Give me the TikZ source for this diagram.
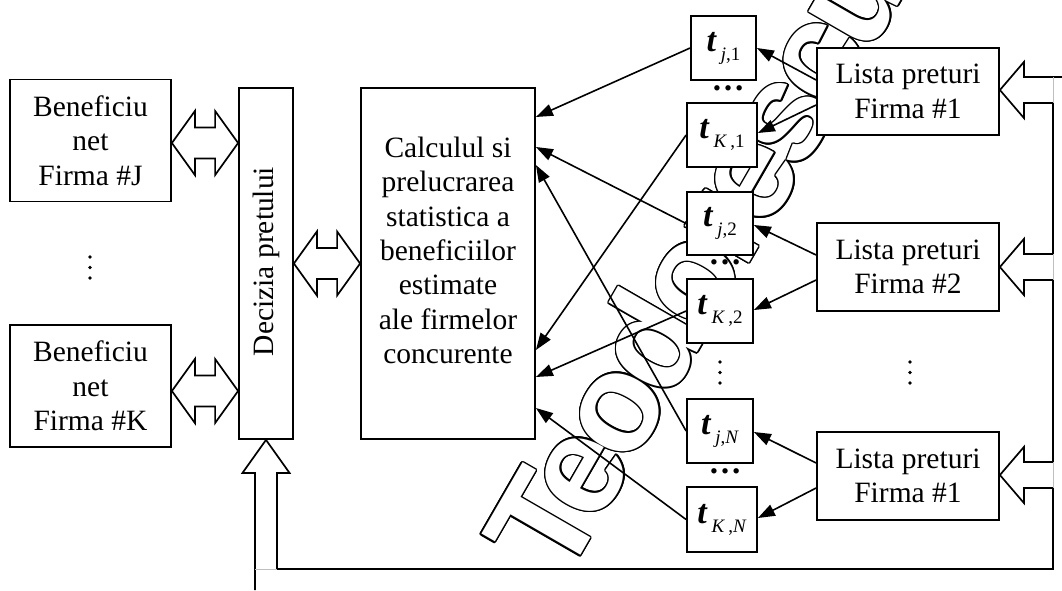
\documentclass[tikz,border=0pt]{standalone}
\usepackage{fontspec}
\setmainfont{Liberation Serif}
\newfontfamily\wmfont[LetterSpace=-7]{Liberation Sans}
\usetikzlibrary{arrows.meta,calc}
\newcommand{\tlab}[1]{{\fontsize{34}{34}\selectfont\textbf{\textit{t}}}\hspace{4pt}\raisebox{-9pt}{\fontsize{19}{19}\selectfont #1}}
% horizontal double block arrow between two tip coordinates
\newcommand{\hdbl}[2]{%
  \draw[block] (#1) -- ($(#1)+(23,-32)$) -- ($(#1)+(23,-15.5)$) -- ($(#2)+(-23,-15.5)$) -- ($(#2)+(-23,-32)$) -- (#2)
    -- ($(#2)+(-23,32)$) -- ($(#2)+(-23,15.5)$) -- ($(#1)+(23,15.5)$) -- ($(#1)+(23,32)$) -- cycle;}
% block arrow pointing left into a list box, fed from the bus
\newcommand{\inarr}[2]{%
  \draw[block] ($(#2 |- #1)+(0,-13)$) -- ($(#1)+(24,-13)$) -- ($(#1)+(24,-28)$) -- (#1)
    -- ($(#1)+(24,28)$) -- ($(#1)+(24,13)$) -- ($(#2 |- #1)+(0,13)$);}
\begin{document}
\begin{tikzpicture}[x=1pt,y=-1pt,
  box/.style={draw,line width=1.8pt,fill=white,inner sep=0pt,align=center,
              font=\fontsize{29.5}{34.3}\selectfont},
  txt/.style={inner sep=0pt,align=center,font=\fontsize{29.5}{34.3}\selectfont},
  conn/.style={line width=1.6pt,-{Triangle[length=17pt,width=12pt]}},
  block/.style={draw,line width=1.7pt,fill=white,line join=miter},
  ln/.style={line width=1.7pt},
  wm/.style={anchor=base west,rotate=60,inner sep=0pt,
             font=\wmfont\bfseries\fontsize{140}{140}\selectfont},
  hdots/.style={inner sep=0pt,font=\fontsize{33}{33}\selectfont\bfseries},
  vdot/.style={fill=black,draw=none}]
\useasboundingbox (0,0) rectangle (1062,590);

% ---- watermark (outlined text) ----
\coordinate (wmo) at (564,584);
\foreach \ang in {0,22.5,...,337.5}
  \node[wm,text=black] at ($(wmo)+(\ang:1.4)$) {Teodorescu};
\node[wm,text=white] at (wmo) {Teodorescu};

% ---- boxes ----
\node[box,minimum width=161pt,minimum height=122pt] (bJ) at (90.5,140.5) {Beneficiu\\net\\Firma \#J};
\node[box,minimum width=161pt,minimum height=122pt] (bK) at (90.5,386) {Beneficiu\\net\\Firma \#K};
\node[box,minimum width=54pt,minimum height=351pt] (dec) at (266,263.5) {};
\node[txt,rotate=90] (dect) at ([yshift=2pt]dec.center) {Decizia pretului};
\node[box,minimum width=174pt,minimum height=351pt] (calc) at (448,263.5) {};
\node[txt] (calct) at ([yshift=13pt]calc.center) {Calculul si\\prelucrarea\\statistica a\\beneficiilor\\estimate\\ale firmelor\\concurente};

\node[box,minimum width=182pt,minimum height=87pt] (L1) at (908,91.5) {Lista preturi\\Firma \#1};
\node[box,minimum width=182pt,minimum height=88pt] (L2) at (908,267) {Lista preturi\\Firma \#2};
\node[box,minimum width=182pt,minimum height=88pt] (L3) at (908,476) {Lista preturi\\Firma \#1};

\node[box,minimum width=65pt,minimum height=64pt] (tj1) at (723.5,48) {\tlab{\textit{j},1}};
\node[box,minimum width=70pt,minimum height=64pt] (tK1) at (722,135) {\tlab{\textit{K}\,,1}};
\node[box,minimum width=66pt,minimum height=63pt] (tj2) at (720,223.5) {\tlab{\textit{j},2}};
\node[box,minimum width=66pt,minimum height=64pt] (tK2) at (720,311) {\tlab{\textit{K}\,,2}};
\node[box,minimum width=66pt,minimum height=64pt] (tjN) at (720,431) {\tlab{\textit{j},\textit{N}}};
\node[box,minimum width=70pt,minimum height=65pt] (tKN) at (722,519.5) {\tlab{\textit{K}\,,\textit{N}}};

% ---- ellipses ----
\node[hdots] (d1) at (728,88) {…};
\node[hdots] (d2) at (725,262) {…};
\node[hdots] (d3) at (725,471) {…};
\foreach \x/\y in {90/257, 720/362, 910/362}
  \foreach \k in {0,1,2}
    \fill[vdot] (\x,\y+10.5*\k) circle (1.8pt);

% ---- block arrows ----
\coordinate (dJ1) at ([yshift=-2.5pt]bJ.east);
\coordinate (dJ2) at (dec.west |- dJ1);
\hdbl{dJ1}{dJ2}
\coordinate (dK1) at ([yshift=-5pt]bK.east);
\coordinate (dK2) at (dec.west |- dK1);
\hdbl{dK1}{dK2}
\coordinate (dC1) at (dec.east);
\coordinate (dC2) at (calc.west |- dC1);
\hdbl{dC1}{dC2}

\coordinate (bus) at (1053,569);
\coordinate (i1) at ([yshift=1.5pt]L1.east);
\coordinate (i2) at (L2.east);
\coordinate (i3) at ([yshift=1pt]L3.east);
\inarr{i1}{bus}
\inarr{i2}{bus}
\inarr{i3}{bus}
\draw[ln] ($(i1)+(24,-13)$) -- ($(bus |- i1)+(9,-13)$);

% bus and feedback to the decision block
\coordinate (fbR) at (277,569);
\coordinate (fbL) at (255,590);
\draw[ln] ($(bus |- i1)+(0,13)$) -- ($(bus |- i2)+(0,-13)$)
          ($(bus |- i2)+(0,13)$) -- ($(bus |- i3)+(0,-13)$)
          ($(bus |- i3)+(0,13)$) -- (bus) -- (fbR)
          -- ($(dec.south)+(11,33)$) -- ($(dec.south)+(23.5,33)$) -- (dec.south)
          -- ($(dec.south)+(-23.5,33)$) -- ($(dec.south)+(-11,33)$) -- (fbL);
\draw[gray!50,line width=0.6pt] ($(bus |- i1)+(0,-13)$) -- ($(bus |- i1)+(0,13)$)
      ($(bus |- i2)+(0,-13)$) -- ($(bus |- i2)+(0,13)$)
      ($(bus |- i3)+(0,-13)$) -- ($(bus |- i3)+(0,13)$)
      (fbR) -- (fbL |- fbR);

% ---- connectors ----
\draw[conn] (tj1.west) -- (calc.east |- 0,117);
\draw[conn] (tK1.west) -- (calc.east |- 0,350);
\draw[conn] (tj2.west) -- (calc.east |- 0,147);
\draw[conn] (tK2.west) -- (calc.east |- 0,377);
\draw[conn] (tjN.west) -- (calc.east |- 0,165);
\draw[conn] (tKN.west) -- (calc.east |- 0,408);

\draw[conn] ([yshift=11.5pt]L1.west) -- (tj1.east);
\draw[conn] ([yshift=-13.5pt]L1.west) -- ([yshift=2pt]tK1.east);
\draw[conn] ([yshift=12pt]L2.west) -- ([yshift=-1.5pt]tj2.east);
\draw[conn] ([yshift=-13pt]L2.west) -- ([yshift=1pt]tK2.east);
\draw[conn] ([yshift=13pt]L3.west) -- ([yshift=-1pt]tjN.east);
\draw[conn] ([yshift=-12pt]L3.west) -- ([yshift=1.5pt]tKN.east);
\end{tikzpicture}
\end{document}
